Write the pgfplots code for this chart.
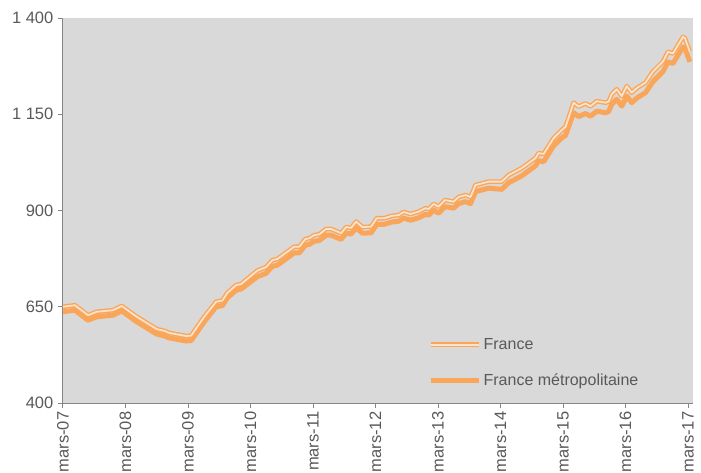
\documentclass[border=0pt]{standalone}
\usepackage{fontspec}
\setmainfont{Liberation Sans}
\usepackage{pgfplots}
\pgfplotsset{compat=1.18}
\usepackage{pgfplotstable}
\definecolor{serorange}{HTML}{F9A65A}
\definecolor{serlight}{HTML}{FBE3CB}
\definecolor{bggray}{HTML}{D9D9D9}
\definecolor{axgray}{HTML}{868686}
\definecolor{txtgray}{HTML}{595959}

\pgfplotstableread{
x y
0 650
0.19 654
0.4 628
0.54 637
0.8 641
0.94 652
1.18 624
1.5 592
1.63 587
1.7 582
1.97 574
2.05 575
2.26 624
2.45 663
2.55 666
2.63 686
2.77 706
2.85 709
3.11 744
3.25 753
3.35 771
3.43 774
3.7 806
3.78 806
3.88 826
3.94 828
4.02 836
4.1 838
4.21 852
4.29 852
4.45 841
4.53 857
4.61 855
4.69 871
4.79 857
4.93 858
5.02 880
5.14 880
5.26 886
5.37 888
5.45 896
5.56 891
5.69 897
5.8 906
5.85 904
5.93 917
6.01 910
6.11 927
6.25 923
6.33 935
6.44 940
6.52 935
6.6 966
6.81 975
7.02 975
7.13 992
7.34 1010
7.56 1036
7.61 1049
7.69 1047
7.85 1088
7.98 1109
8.04 1117
8.17 1180
8.25 1170
8.36 1178
8.44 1171
8.54 1184
8.68 1180
8.73 1183
8.78 1202
8.86 1215
8.94 1197
9.02 1223
9.1 1206
9.18 1218
9.32 1232
9.44 1261
9.6 1287
9.68 1312
9.76 1308
9.92 1351
9.95 1348
10.03 1312
}\france

\pgfplotstableread{
x y
0 637
0.19 641
0.4 615
0.54 624
0.8 628
0.94 639
1.18 611
1.5 579
1.63 574
1.7 569
1.97 561
2.05 562
2.26 611
2.45 650
2.55 653
2.63 673
2.77 693
2.85 696
3.11 728
3.25 737
3.35 755
3.43 758
3.7 790
3.78 790
3.88 810
3.94 812
4.02 820
4.1 822
4.21 836
4.29 836
4.45 825
4.53 841
4.61 839
4.69 855
4.79 841
4.93 842
5.02 864
5.14 864
5.26 870
5.37 872
5.45 880
5.56 875
5.69 881
5.8 890
5.85 888
5.93 901
6.01 893
6.11 910
6.25 906
6.33 918
6.44 923
6.52 918
6.6 949
6.81 958
7.02 955
7.13 972
7.34 990
7.56 1016
7.61 1029
7.69 1027
7.85 1068
7.98 1089
8.04 1095
8.17 1154
8.25 1144
8.36 1152
8.44 1145
8.54 1158
8.68 1154
8.73 1157
8.78 1176
8.86 1189
8.94 1171
9.02 1197
9.1 1180
9.18 1192
9.32 1206
9.44 1235
9.6 1261
9.68 1286
9.76 1282
9.92 1325
9.95 1322
10.03 1286
}\metro

\begin{document}
\begin{tikzpicture}
\begin{axis}[
  scale only axis,
  width=630pt, height=385pt,
  xmin=0, xmax=10.08,
  ymin=400, ymax=1400,
  axis lines*=left,
  axis line style={draw=axgray, line width=1pt, -},
  axis background/.style={fill=bggray},
  tick align=outside,
  major tick length=5pt,
  tick style={draw=axgray, line width=1pt},
  xtick={0,1,2,3,4,5,6,7,8,9,10},
  xticklabels={mars-07,mars-08,mars-09,mars-10,mars-11,mars-12,mars-13,mars-14,mars-15,mars-16,mars-17},
  ytick={400,650,900,1150,1400},
  yticklabels={400,650,900,1 150,1 400},
  x tick label style={rotate=90, anchor=east, font=\fontsize{16.5}{19}\selectfont, text=txtgray, inner sep=3.5pt},
  y tick label style={font=\fontsize{16.5}{19}\selectfont, text=txtgray, inner sep=4.5pt},
  legend style={at={(0.58,0.035)}, anchor=south west, draw=none, fill=none,
    font=\fontsize{16}{19}\selectfont, text=txtgray, row sep=19pt, inner sep=0pt},
  legend cell align=left,
  reverse legend,
  legend image code/.code={\draw[#1] (0pt,0pt) -- (48pt,0pt);},
]
\addplot[draw=serorange, line width=5pt, line join=round] table[x=x,y=y] {\metro};
\addlegendentry{France métropolitaine}
\addplot[draw=serorange, line width=1.4pt, double=serlight, double distance=1.8pt, line join=round] table[x=x,y=y] {\france};
\addlegendentry{France}
\end{axis}
\pgfresetboundingbox
\path[use as bounding box] ([shift={(-63pt,-69pt)}]current axis.south west) rectangle ([shift={(8pt,18pt)}]current axis.north east);
\end{tikzpicture}
\end{document}
